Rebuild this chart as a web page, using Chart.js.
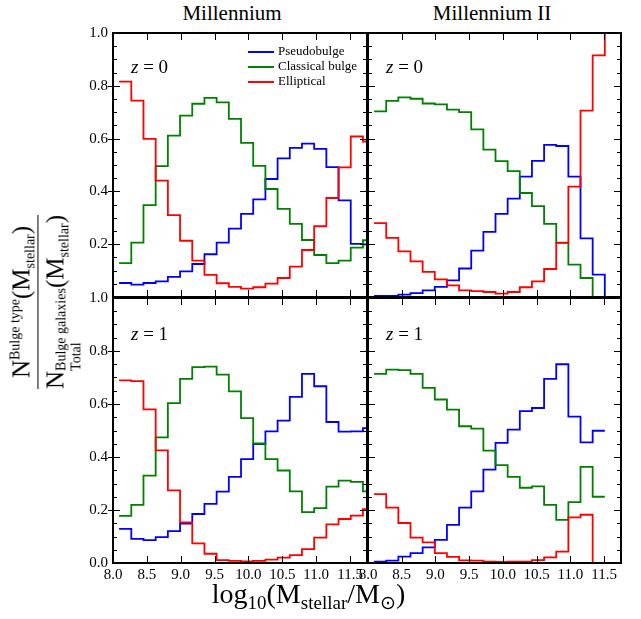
<!DOCTYPE html>
<html lang="en">
<head>
<meta charset="UTF-8">
<title>Bulge type fractions</title>
<script src="https://cdn.jsdelivr.net/npm/chart.js@4"></script>
<style>
  body { margin: 0; background: #fff; }
  #fig { position: relative; width: 641px; height: 619px; background: #fff; font-family: 'Liberation Serif', 'Times New Roman', serif; color: #000; }
  canvas { position: absolute; }
  .title { position: absolute; top: 3px; font-size: 21px; line-height: 21px; white-space: nowrap; transform: translateX(-50%); }
  .zlab { position: absolute; font-size: 19px; line-height: 19px; white-space: nowrap; }
  .legend { position: absolute; left: 248px; font-size: 13px; line-height: 15px; height: 15px; white-space: nowrap; }
  .legend span { display: inline-block; width: 26px; height: 0; border-top: 2px solid; vertical-align: middle; margin-right: 4px; }
  #xlab { position: absolute; left: 0; width: 617px; top: 580px; text-align: center; font-size: 28px; line-height: 28px; white-space: nowrap; }
  #xlab sub { font-size: 19px; vertical-align: -0.3em; line-height: 0; }
  #ylab { position: absolute; left: 44px; top: 302px; transform: translate(-50%, -50%) rotate(-90deg); white-space: nowrap; font-size: 25px; text-align: center; }
  #ylab .num, #ylab .den { line-height: 33px; }
  #ylab .den { border-top: 1.5px solid #000; }
  #ylab sup { font-size: 14px; vertical-align: 0.7em; line-height: 0; }
  #ylab sub { font-size: 14px; vertical-align: -0.35em; line-height: 0; }
  #ylab .ss { display: inline-flex; flex-direction: column; font-size: 14px; line-height: 15px; vertical-align: -0.15em; text-align: left; }
</style>
</head>
<body>
<div id="fig">
  <div class="title" style="left:232px">Millennium</div>
  <div class="title" style="left:492px">Millennium II</div>

  <canvas id="ms1z0" width="308" height="304" style="left:63px; top:23px"></canvas>
  <canvas id="ms2z0" width="307" height="304" style="left:318px; top:23px"></canvas>
  <canvas id="ms1z1" width="308" height="305" style="left:63px; top:288px"></canvas>
  <canvas id="ms2z1" width="307" height="305" style="left:318px; top:288px"></canvas>

  <div class="zlab" style="left:131px; top:57px"><i>z</i> = 0</div>
  <div class="zlab" style="left:386px; top:57px"><i>z</i> = 0</div>
  <div class="zlab" style="left:131px; top:324px"><i>z</i> = 1</div>
  <div class="zlab" style="left:386px; top:324px"><i>z</i> = 1</div>

  <div class="legend" style="top:43px"><span style="border-color:#0000ff"></span>Pseudobulge</div>
  <div class="legend" style="top:58px"><span style="border-color:#008000"></span>Classical bulge</div>
  <div class="legend" style="top:73px"><span style="border-color:#ff0000"></span>Elliptical</div>

  <div id="ylab">
    <div class="num">N<sup>Bulge type</sup>(M<sub>stellar</sub>)</div>
    <div class="den">N<span class="ss"><span>Bulge galaxies</span><span>Total</span></span>(M<sub>stellar</sub>)</div>
  </div>
  <div id="xlab">log<sub>10</sub>(M<sub>stellar</sub>/M<sub>⊙</sub>)</div>
</div>

<script>
// left edges of the mass bins (last one closes the final bin)
const binEdges = [8.09, 8.27, 8.45, 8.63, 8.81, 8.99, 9.17, 9.35, 9.53, 9.71, 9.89,
                  10.07, 10.25, 10.43, 10.61, 10.79, 10.97, 11.15, 11.33, 11.51, 11.69, 11.87];

// Millennium, z=0
const ms1z0Pseudo     = [0.053, 0.047, 0.053, 0.059, 0.076, 0.097, 0.125, 0.162, 0.206, 0.259, 0.315, 0.370, 0.447, 0.525, 0.565, 0.581, 0.561, 0.492, 0.366, 0.201, 0.199];
const ms1z0Classical  = [0.128, 0.206, 0.348, 0.496, 0.611, 0.687, 0.732, 0.754, 0.737, 0.675, 0.584, 0.497, 0.409, 0.334, 0.277, 0.216, 0.159, 0.128, 0.138, 0.187, 0.215];
const ms1z0Elliptical = [0.816, 0.744, 0.599, 0.441, 0.310, 0.213, 0.138, 0.084, 0.052, 0.038, 0.032, 0.037, 0.051, 0.072, 0.115, 0.178, 0.268, 0.375, 0.491, 0.608, 0.589];

// Millennium II, z=0
const ms2z0Pseudo     = [0.004, 0.004, 0.009, 0.015, 0.025, 0.038, 0.063, 0.108, 0.176, 0.247, 0.315, 0.373, 0.456, 0.516, 0.576, 0.572, 0.456, 0.222, 0.085, 0];
const ms2z0Classical  = [0.703, 0.743, 0.756, 0.751, 0.733, 0.730, 0.710, 0.700, 0.635, 0.558, 0.515, 0.477, 0.394, 0.344, 0.277, 0.206, 0.123, 0.072, 0, 0];
const ms2z0Elliptical = [0.280, 0.224, 0.173, 0.135, 0.095, 0.067, 0.044, 0.025, 0.022, 0.019, 0.013, 0.019, 0.037, 0.059, 0.106, 0.205, 0.418, 0.706, 0.915, 1.0, 1.0];

// Millennium, z=1
const ms1z1Pseudo     = [0.129, 0.091, 0.086, 0.098, 0.120, 0.149, 0.185, 0.223, 0.269, 0.325, 0.392, 0.449, 0.497, 0.537, 0.627, 0.714, 0.667, 0.532, 0.496, 0.497, 0.509];
const ms1z1Classical  = [0.178, 0.219, 0.330, 0.474, 0.603, 0.695, 0.739, 0.741, 0.711, 0.648, 0.547, 0.451, 0.392, 0.349, 0.270, 0.192, 0.207, 0.288, 0.311, 0.306, 0.270];
const ms1z1Elliptical = [0.689, 0.686, 0.580, 0.425, 0.274, 0.153, 0.074, 0.035, 0.011, 0.008, 0.006, 0.008, 0.013, 0.020, 0.030, 0.052, 0.096, 0.146, 0.166, 0.179, 0.203];

// Millennium II, z=1
const ms2z1Pseudo     = [0.005, 0.009, 0.024, 0.037, 0.059, 0.087, 0.144, 0.209, 0.270, 0.352, 0.453, 0.503, 0.573, 0.585, 0.695, 0.750, 0.552, 0.455, 0.499];
const ms2z1Classical  = [0.714, 0.730, 0.728, 0.714, 0.661, 0.617, 0.579, 0.516, 0.507, 0.424, 0.369, 0.325, 0.284, 0.289, 0.219, 0.163, 0.230, 0.363, 0.250];
const ms2z1Elliptical = [0.260, 0.209, 0.151, 0.096, 0.078, 0.037, 0.023, 0.010, 0.009, 0.005, 0.004, 0.005, 0.005, 0.011, 0.021, 0.043, 0.172, 0.182, 0];

const colors = { pseudo: '#0000ff', classical: '#008000', elliptical: '#ff0000' };
const tickFont = { family: "'Liberation Serif', 'Times New Roman', serif", size: 15 };

function stepPoints(values) {
    const pts = values.map((v, i) => ({ x: binEdges[i], y: v }));
    pts.push({ x: binEdges[values.length], y: values[values.length - 1] });
    return pts;
}

function line(values, color) {
    return { data: stepPoints(values), borderColor: color, borderWidth: 1.8, pointRadius: 0, stepped: true, fill: false };
}

// fixed axis boxes so every panel's plot area lands at the same place
function fixBox(w, h) {
    return s => {
        if (w !== null) s.width = w;
        if (h !== null) s.height = h;
        s.paddingTop = 0; s.paddingBottom = 0; s.paddingLeft = 0; s.paddingRight = 0;
    };
}

// box around each panel + inward tick marks (majors also poke out on the left of left panels)
const framePlugin = {
    id: 'frame',
    afterDatasetsDraw(chart, args, opts) {
        const { ctx, chartArea: a, scales: { x, y } } = chart;
        const L = Math.round(a.left), R = Math.round(a.right), T = Math.round(a.top), B = Math.round(a.bottom);
        ctx.save();
        ctx.strokeStyle = '#000';
        ctx.lineWidth = 1;
        ctx.beginPath();
        x.ticks.forEach(t => {
            const px = Math.round(x.getPixelForValue(t.value)) + 0.5;
            ctx.moveTo(px, B); ctx.lineTo(px, B - 7);
            ctx.moveTo(px, T); ctx.lineTo(px, T + 7);
        });
        for (let k = 1; k < 20; k++) {
            const py = Math.round(y.getPixelForValue(k * 0.05)) + 0.5;
            const len = k % 4 === 0 ? 7 : 4;
            ctx.moveTo(L, py); ctx.lineTo(L + len, py);
            ctx.moveTo(R, py); ctx.lineTo(R - len, py);
            if (opts.outer && k % 4 === 0) { ctx.moveTo(L, py); ctx.lineTo(L - 5, py); }
        }
        ctx.stroke();
        ctx.lineWidth = 2;
        ctx.strokeRect(L, T, R - L, B - T);
        ctx.restore();
    }
};

function makePanel(id, pseudo, classical, elliptical, showX, showY, hideZero) {
    new Chart(document.getElementById(id), {
        type: 'line',
        data: { datasets: [line(elliptical, colors.elliptical), line(classical, colors.classical), line(pseudo, colors.pseudo)] },
        options: {
            responsive: false,
            animation: false,
            layout: { padding: { top: 10, right: 4, left: 0, bottom: 0 } },
            plugins: { legend: { display: false }, tooltip: { enabled: false }, frame: { outer: showY } },
            scales: {
                x: {
                    type: 'linear', min: 8, max: 11.75,
                    grid: { display: false, drawTicks: false, tickLength: 0 },
                    border: { display: false },
                    ticks: { display: showX, stepSize: 0.5, includeBounds: false, autoSkip: false, maxRotation: 0,
                             padding: 3, color: '#000', font: tickFont, callback: v => v.toFixed(1) },
                    afterFit: fixBox(null, 30)
                },
                y: {
                    min: 0, max: 1,
                    grid: { display: false, drawTicks: false, tickLength: 0 },
                    border: { display: false },
                    ticks: { display: showY, stepSize: 0.2, includeBounds: false, padding: 5, color: '#000', font: tickFont,
                             callback: v => (hideZero && Math.abs(v) < 1e-9) ? '' : v.toFixed(1) },
                    afterFit: fixBox(50, null)
                }
            }
        },
        plugins: [framePlugin]
    });
}

makePanel('ms1z0', ms1z0Pseudo, ms1z0Classical, ms1z0Elliptical, false, true, true);
makePanel('ms2z0', ms2z0Pseudo, ms2z0Classical, ms2z0Elliptical, false, false, false);
makePanel('ms1z1', ms1z1Pseudo, ms1z1Classical, ms1z1Elliptical, true, true, false);
makePanel('ms2z1', ms2z1Pseudo, ms2z1Classical, ms2z1Elliptical, true, false, false);
</script>
</body>
</html>
